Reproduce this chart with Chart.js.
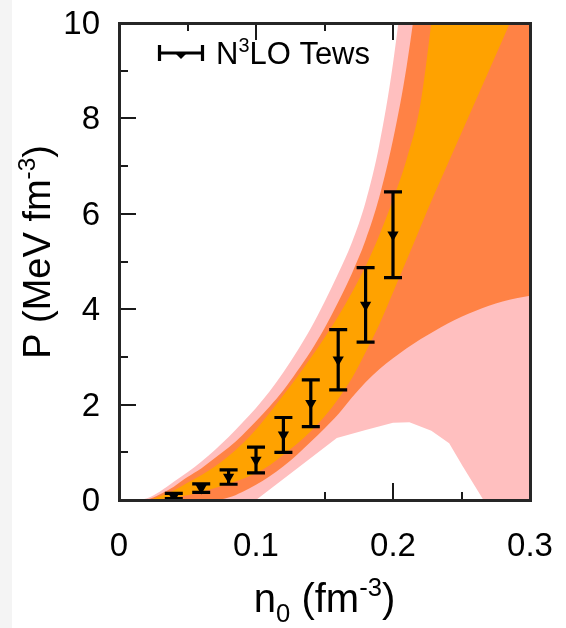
<!DOCTYPE html>
<html>
<head>
<meta charset="utf-8">
<script src="https://cdn.jsdelivr.net/npm/chart.js@4.4.1/dist/chart.umd.min.js"></script>
<style>
  html, body { margin: 0; padding: 0; background: #ffffff; }
  #wrap { position: relative; width: 566px; height: 628px; }
</style>
</head>
<body>
<div id="wrap"><canvas id="c" width="566" height="628"></canvas></div>
<script>
// Density grid (fm^-3) shared by the smooth band edges
const nGrid = [0.00, 0.01, 0.02, 0.03, 0.04, 0.05, 0.06, 0.07, 0.08, 0.09, 0.10,
               0.11, 0.12, 0.13, 0.14, 0.15, 0.16, 0.17, 0.18, 0.19, 0.20,
               0.21, 0.22, 0.23, 0.24, 0.25, 0.26, 0.27, 0.28, 0.29, 0.30];

// Outer (pink) band: upper edge on nGrid, lower edge on its own grid
const pinkTop = [0, 0, 0.03, 0.18, 0.38, 0.58, 0.80, 1.05, 1.32, 1.62, 1.93,
                 2.28, 2.68, 3.12, 3.60, 4.15, 4.75, 5.40, 6.25, 7.45, 9.15,
                 11.5, 14.2, 17.0, 20.0, 23.0, 26.0, 29.0, 32.0, 35.0, 38.0];
const pinkBottomN = [0.000, 0.100, 0.130, 0.159, 0.180, 0.200, 0.212, 0.228, 0.241, 0.251, 0.266, 0.300];
const pinkBottomP = [0, 0, 0.66, 1.30, 1.47, 1.62, 1.63, 1.45, 1.19, 0.70, 0, 0];

// Middle (coral) band
const coralTop = [0, 0, 0.01, 0.12, 0.28, 0.48, 0.66, 0.88, 1.10, 1.36, 1.65,
                  1.96, 2.30, 2.70, 3.12, 3.60, 4.15, 4.75, 5.45, 6.35, 7.55,
                  9.10, 11.2, 13.6, 16.0, 18.5, 21.0, 23.5, 26.0, 28.5, 31.0];
const coralBottom = [0, 0, 0, 0, 0, 0, 0, 0, 0.05, 0.17, 0.32,
                     0.50, 0.71, 0.95, 1.22, 1.50, 1.80, 2.15, 2.47, 2.74, 2.97,
                     3.18, 3.37, 3.54, 3.70, 3.84, 3.96, 4.07, 4.16, 4.23, 4.28];

// Inner (orange) band
const orangeTop = [0, 0, 0, 0.08, 0.20, 0.36, 0.52, 0.70, 0.92, 1.18, 1.48,
                   1.83, 2.20, 2.58, 2.98, 3.40, 3.85, 4.35, 4.90, 5.55, 6.30,
                   7.15, 8.30, 10.5, 13.0, 15.5, 18.0, 20.5, 23.0, 25.5, 28.0];
const orangeBottom = [0, 0, 0, 0.02, 0.05, 0.10, 0.17, 0.25, 0.34, 0.44, 0.56,
                      0.73, 0.95, 1.18, 1.44, 1.75, 2.12, 2.55, 3.10, 3.68, 4.35,
                      5.03, 5.72, 6.40, 7.05, 7.70, 8.35, 9.00, 9.65, 10.3, 10.95];

// N3LO Tews points with error bars
const tewsN    = [0.04, 0.06, 0.08, 0.10, 0.12, 0.14, 0.16, 0.18, 0.20];
const tewsP    = [0.08, 0.25, 0.48, 0.84, 1.37, 2.03, 2.94, 4.09, 5.56];
const tewsLow  = [0.03, 0.16, 0.33, 0.57, 1.00, 1.54, 2.31, 3.31, 4.66];
const tewsHigh = [0.14, 0.34, 0.63, 1.11, 1.73, 2.52, 3.57, 4.87, 6.46];

// Axis ticks
const xMajorTicks = [0.1, 0.2];
const xMinorTicks = [0.05, 0.15, 0.25];
const yMajorTicks = [2, 4, 6, 8];
const yMinorTicks = [1, 3, 5, 7, 9];

const FONT = "'Liberation Sans', Arial, Helvetica, sans-serif";
const PINK = '#ffbfbf';
const CORAL = '#ff8245';
const ORANGE = '#ffa200';
const FRAME = '#262626';

const pts = (xs, ys) => xs.map((v, i) => ({ x: v, y: ys[i] }));

function bandEdge(label, xs, ys, color, fillTarget, order, smooth) {
  return {
    label: label,
    data: pts(xs, ys),
    borderWidth: 0,
    borderColor: 'rgba(0,0,0,0)',
    backgroundColor: color,
    pointRadius: 0,
    fill: fillTarget,
    order: order,
    tension: 0,
    cubicInterpolationMode: smooth ? 'monotone' : 'default'
  };
}

// Text with superscript / subscript runs
function richWidth(ctx, parts, size) {
  let w = 0;
  for (const [t, m] of parts) {
    ctx.font = (m ? size * 0.64 : size) + 'px ' + FONT;
    w += ctx.measureText(t).width;
  }
  return w;
}
function richText(ctx, parts, x, y, size) {
  let cx = x;
  for (const [t, m] of parts) {
    const s = m ? size * 0.64 : size;
    ctx.font = s + 'px ' + FONT;
    const dy = m === 'sup' ? -size * 0.40 : (m === 'sub' ? size * 0.24 : 0);
    ctx.fillText(t, cx, y + dy);
    cx += ctx.measureText(t).width;
  }
}

// Keep the plot box fixed: labels must not push the chart area inwards
function fixScale(s, key, size) {
  s[key] = size;
  s.paddingTop = 0; s.paddingBottom = 0;
  s.paddingLeft = 0; s.paddingRight = 0;
}

const decor = {
  id: 'decor',
  beforeDraw(chart) {
    const { ctx } = chart;
    ctx.save();
    ctx.fillStyle = '#f4f4f4';
    ctx.fillRect(0, 0, 12, chart.height);
    ctx.restore();
  },
  beforeDatasetsDraw(chart) {
    const { ctx, chartArea: a, scales: { x, y } } = chart;
    ctx.save();
    ctx.strokeStyle = '#1a1a1a';
    ctx.lineWidth = 2;
    ctx.beginPath();
    const vt = (v, len) => {
      const px = Math.round(x.getPixelForValue(v));
      ctx.moveTo(px, a.bottom); ctx.lineTo(px, a.bottom - len);
      ctx.moveTo(px, a.top); ctx.lineTo(px, a.top + len);
    };
    const ht = (v, len) => {
      const py = Math.round(y.getPixelForValue(v));
      ctx.moveTo(a.left, py); ctx.lineTo(a.left + len, py);
      ctx.moveTo(a.right, py); ctx.lineTo(a.right - len, py);
    };
    xMajorTicks.forEach(v => vt(v, 17));
    xMinorTicks.forEach(v => vt(v, 8));
    yMajorTicks.forEach(v => ht(v, 17));
    yMinorTicks.forEach(v => ht(v, 9));
    ctx.stroke();
    ctx.restore();
  },
  afterDatasetsDraw(chart) {
    const { ctx, scales: { x, y } } = chart;
    ctx.save();
    ctx.strokeStyle = '#000';
    ctx.lineWidth = 3.2;
    ctx.lineCap = 'butt';
    ctx.beginPath();
    tewsN.forEach((n, i) => {
      const px = x.getPixelForValue(n);
      const lo = y.getPixelForValue(tewsLow[i]);
      const hi = y.getPixelForValue(tewsHigh[i]);
      ctx.moveTo(px, lo); ctx.lineTo(px, hi);
      ctx.moveTo(px - 9, lo); ctx.lineTo(px + 9, lo);
      ctx.moveTo(px - 9, hi); ctx.lineTo(px + 9, hi);
    });
    ctx.stroke();
    ctx.restore();
  },
  afterDraw(chart) {
    const { ctx } = chart;
    const { x, y } = chart.scales;
    const L = Math.round(x.getPixelForValue(0)), R = Math.round(x.getPixelForValue(0.3));
    const T = Math.round(y.getPixelForValue(10)), B = Math.round(y.getPixelForValue(0));
    ctx.save();
    // plot frame, drawn last so it sits on top of the bands
    ctx.setLineDash([]);
    ctx.globalAlpha = 1;
    ctx.fillStyle = FRAME;
    ctx.fillRect(L - 1, T - 1, R - L + 3, 3);
    ctx.fillRect(L - 1, B - 1, R - L + 3, 3);
    ctx.fillRect(L - 1, T - 1, 3, B - T + 3);
    ctx.fillRect(R - 1, T - 1, 3, B - T + 3);

    ctx.fillStyle = '#000';
    ctx.strokeStyle = '#000';
    // legend entry
    ctx.lineWidth = 3.2;
    ctx.beginPath();
    ctx.moveTo(159, 53); ctx.lineTo(203, 53);
    ctx.moveTo(159.5, 45); ctx.lineTo(159.5, 61);
    ctx.moveTo(202.5, 45); ctx.lineTo(202.5, 61);
    ctx.stroke();
    ctx.beginPath();
    ctx.moveTo(175, 53); ctx.lineTo(187, 53); ctx.lineTo(181, 59); ctx.closePath();
    ctx.fill();
    ctx.textBaseline = 'alphabetic';
    ctx.textAlign = 'left';
    richText(ctx, [['N', ''], ['3', 'sup'], ['LO Tews', '']], 216, 64, 31);

    // x axis title
    const xt = [['n', ''], ['0', 'sub'], [' (fm', ''], ['-3', 'sup'], [')', '']];
    const xw = richWidth(ctx, xt, 40);
    richText(ctx, xt, (L + R) / 2 - xw / 2, 612, 40);

    // y axis title
    const yt = [['P (MeV fm', ''], ['-3', 'sup'], [')', '']];
    const yw = richWidth(ctx, yt, 38);
    ctx.translate(50, 252);
    ctx.rotate(-Math.PI / 2);
    richText(ctx, yt, -yw / 2, 0, 38);
    ctx.restore();
  }
};

const tickFont = { family: FONT, size: 33 };

new Chart(document.getElementById('c'), {
  type: 'line',
  data: {
    datasets: [
      {
        label: 'N3LO Tews',
        data: pts(tewsN, tewsP),
        showLine: false,
        pointStyle: 'triangle',
        rotation: 180,
        pointRadius: 6.5,
        pointBackgroundColor: '#000',
        pointBorderColor: '#000',
        pointBorderWidth: 0,
        borderColor: '#000',
        order: 0
      },
      bandEdge('orange upper', nGrid, orangeTop, ORANGE, 2, 1, true),
      bandEdge('orange lower', nGrid, orangeBottom, ORANGE, false, 1, true),
      bandEdge('coral upper', nGrid, coralTop, CORAL, 4, 2, true),
      bandEdge('coral lower', nGrid, coralBottom, CORAL, false, 2, true),
      bandEdge('pink upper', nGrid, pinkTop, PINK, 6, 3, true),
      bandEdge('pink lower', pinkBottomN, pinkBottomP, PINK, false, 3, false)
    ]
  },
  options: {
    responsive: false,
    animation: false,
    devicePixelRatio: 1,
    layout: { padding: { left: 0, right: 36, top: 23, bottom: 0 } },
    plugins: {
      legend: { display: false },
      tooltip: { enabled: false }
    },
    scales: {
      x: {
        type: 'linear',
        position: 'bottom',
        min: 0, max: 0.3,
        border: { display: false },
        grid: { display: false, drawTicks: false },
        ticks: {
          stepSize: 0.1,
          padding: 27,
          color: '#000',
          font: tickFont,
          maxRotation: 0,
          callback: v => (Math.abs(v) < 1e-9 ? '0' : v.toFixed(1))
        },
        afterFit: s => fixScale(s, 'height', 128)
      },
      y: {
        type: 'linear',
        position: 'left',
        min: 0, max: 10,
        border: { display: false },
        grid: { display: false, drawTicks: false },
        ticks: {
          stepSize: 2,
          padding: 19,
          labelOffset: 2,
          color: '#000',
          font: tickFont
        },
        afterFit: s => fixScale(s, 'width', 119)
      }
    }
  },
  plugins: [decor]
});
</script>
</body>
</html>
